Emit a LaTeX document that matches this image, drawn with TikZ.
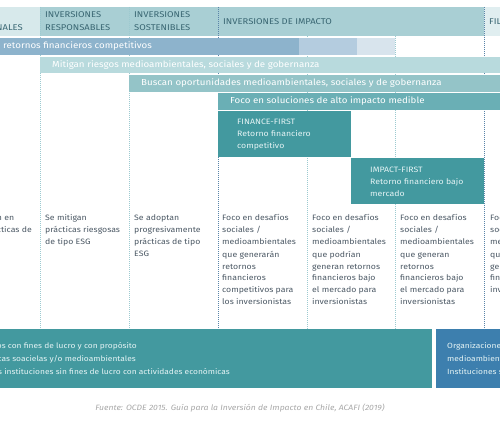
\documentclass[tikz,border=0pt]{standalone}
\usepackage{fontspec}
\setmainfont{Fira Sans}[FakeStretch=1.12]
\definecolor{hdrA}{HTML}{D7E9EB}
\definecolor{hdrB}{HTML}{A9CFD4}
\definecolor{hdrC}{HTML}{E0EEF0}
\definecolor{rowA}{HTML}{8DB3CC}
\definecolor{rowAb}{HTML}{B4CCDF}
\definecolor{rowAc}{HTML}{D8E4ED}
\definecolor{rowB}{HTML}{B8DADD}
\definecolor{rowC}{HTML}{94C4C8}
\definecolor{rowD}{HTML}{6AAFB5}
\definecolor{boxT}{HTML}{43999F}
\definecolor{boxBl}{HTML}{3D7FAE}
\definecolor{hdrtxt}{HTML}{3A6773}
\definecolor{coltxt}{HTML}{4B5864}
\definecolor{lightln}{HTML}{9CCAD0}
\definecolor{darkln}{HTML}{5A84A8}
\definecolor{foot}{HTML}{A8A8A8}
\definecolor{boxtxt}{HTML}{E4F3F4}
\begin{document}
\begin{tikzpicture}[x=1pt,y=-1pt,
  hdrtext/.style={inner sep=0pt,anchor=base west,align=left,text=hdrtxt,font=\fontsize{8.4}{13.5}\selectfont},
  bartext/.style={inner sep=0pt,text=white,font=\fontsize{8.7}{11}\selectfont},
  coltext/.style={inner sep=0pt,anchor=base west,align=left,text=coltxt,font=\fontsize{7.8}{12}\selectfont},
  boxtext/.style={inner sep=0pt,anchor=base west,align=left,text=boxtxt,font=\fontsize{7.8}{12}\selectfont},
  lowtext/.style={inner sep=0pt,anchor=base east,text=boxtxt,font=\fontsize{7.5}{13}\selectfont},
  lightdots/.style={draw=lightln,line width=1pt,dash pattern=on 1pt off 1pt},
  darkdots/.style={draw=darkln,line width=1pt,dash pattern=on 1pt off 1pt}]
\useasboundingbox (0,0) rectangle (500,427);
\clip (0,0) rectangle (500,427);
% header backgrounds
\fill[hdrA] (0,7) rectangle (40,36);
\fill[hdrB] (40,7) rectangle (484,36);
\fill[hdrC] (484,7) rectangle (500,36);
% dotted column lines
\draw[lightdots] (40.5,7) -- (40.5,329);
\draw[lightdots] (129.5,7) -- (129.5,329);
\draw[darkdots] (218.5,7) -- (218.5,329);
\draw[lightdots] (307.5,36) -- (307.5,329);
\draw[lightdots] (395.5,36) -- (395.5,329);
\draw[darkdots] (484.5,7) -- (484.5,329);
% header texts
\node[hdrtext,anchor=base east] (h0) at (23,31) {TRADICIONALES};
\node[hdrtext] (h1) at (45,31) {INVERSIONES\\RESPONSABLES};
\node[hdrtext] (h2) at (134,31) {INVERSIONES\\SOSTENIBLES};
\node[hdrtext] (h3) at (223,25) {INVERSIONES DE IMPACTO};
\node[hdrtext] (h4) at (489,25) {FILANTROPÍA};
% bars
\fill[rowA] (0,38) rectangle (299,55);
\fill[rowAb] (299,38) rectangle (357,55);
\fill[rowAc] (357,38) rectangle (395,55);
\node[bartext,anchor=east] (b1) at (152,46.5) {Buscan retornos financieros competitivos};
\fill[rowB] (40,57) rectangle (500,73);
\node[bartext,anchor=west] (b2) at (52,65) {Mitigan riesgos medioambientales, sociales y de gobernanza};
\fill[rowC] (129,75) rectangle (500,92);
\node[bartext,anchor=west] (b3) at (141,83.5) {Buscan oportunidades medioambientales, sociales y de gobernanza};
\fill[rowD] (218,93) rectangle (500,110);
\node[bartext,anchor=west] (b4) at (230,101.5) {Foco en soluciones de alto impacto medible};
% finance first / impact first
\fill[boxT] (218,111) rectangle (351,157);
\node[boxtext] (ff) at (237,149) {FINANCE-FIRST\\Retorno financiero\\competitivo};
\fill[boxT] (351,158) rectangle (484,204);
\node[boxtext] (imf) at (370,197) {IMPACT-FIRST\\Retorno financiero bajo\\mercado};
% column texts (anchored at last baseline)
\node[coltext,anchor=base east] (c0a) at (14.5,221) {Se enfocan en};
\node[coltext,anchor=base east] (c0b) at (32,233) {poco en prácticas de};
\node[coltext] (c1) at (45,245) {Se mitigan\\prácticas riesgosas\\de tipo ESG};
\node[coltext] (c2) at (134,257) {Se adoptan\\progresivamente\\prácticas de tipo\\ESG};
\node[coltext] (c3) at (222,305) {Foco en desafíos\\sociales /\\medioambientales\\que generarán\\retornos\\financieros\\competitivos para\\los inversionistas};
\node[coltext] (c4) at (312,305) {Foco en desafíos\\sociales /\\medioambientales\\que podrían\\generan retornos\\financieros bajo\\el mercado para\\inversionistas};
\node[coltext] (c5) at (400,305) {Foco en desafíos\\sociales /\\medioambientales\\que generan\\retornos\\financieros bajo\\el mercado para\\inversionistas};
\node[coltext] (c6) at (490,293) {Foco en desafíos\\sociales /\\medioambientales\\que no\\generan retornos\\financieros\\inversionistas};
% bottom boxes
\fill[boxT] (0,329) rectangle (432,388);
\node[lowtext] (l1) at (137,348.5) {Emprendimientos con fines de lucro y con propósito};
\node[lowtext] (l2) at (136,361.5) {Empresas con prácticas soacielas y/o medioambientales};
\node[lowtext] (l3) at (230,374.5) {Fundaciones y otras instituciones sin fines de lucro con actividades económicas};
\fill[boxBl] (436,329) rectangle (500,388);
\node[inner sep=0pt,anchor=base west,align=left,text=boxtxt,font=\fontsize{7.5}{13}\selectfont] (r1) at (447,374.5) {Organizaciones sociales y\\medioambientales\\Instituciones sin fines de lucro};
% footer
\node[inner sep=0pt,text=foot,font=\itshape\fontsize{7.7}{9}\selectfont] (src) at (240,408) {Fuente: OCDE 2015. Guía para la Inversión de Impacto en Chile, ACAFI (2019)};
\end{tikzpicture}
\end{document}
